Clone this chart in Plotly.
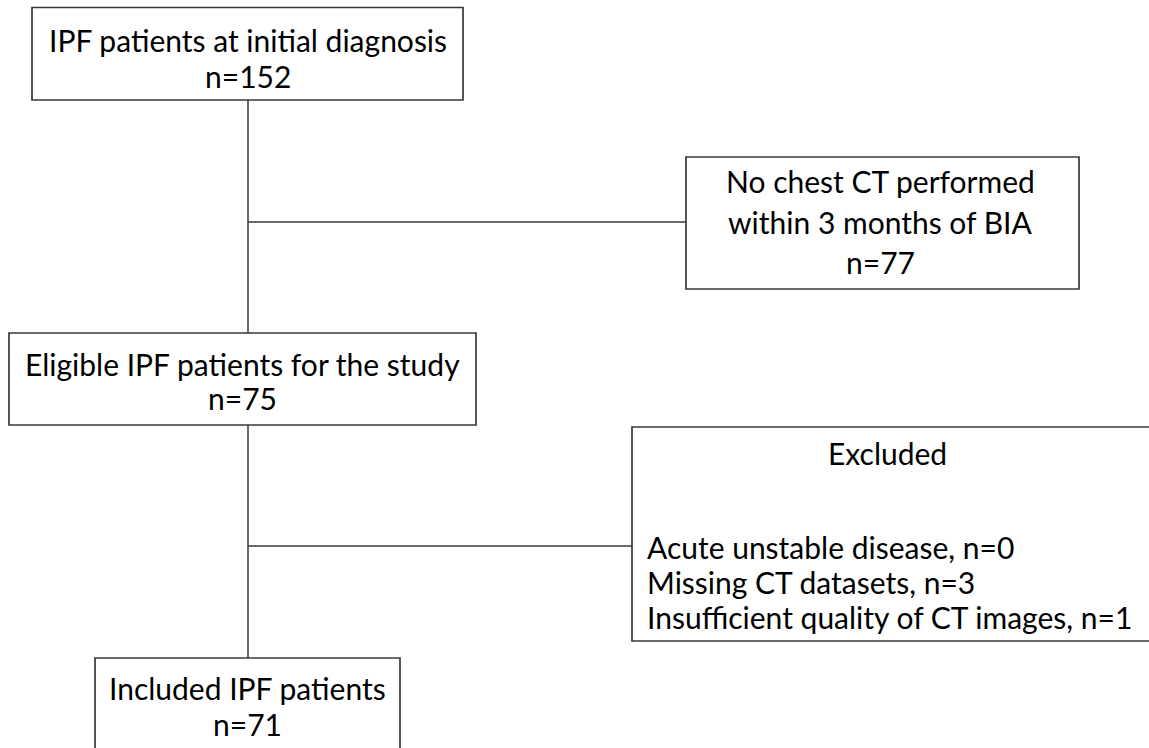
import plotly.graph_objects as go

# ---- data ----
stage_labels = ["IPF patients at initial diagnosis",
                "Eligible IPF patients for the study",
                "Included IPF patients"]
stage_counts = [152, 75, 71]
excl1_lines = ["No chest CT performed", "within 3 months of BIA"]
excl1_count = 77
excl2_title = "Excluded"
excl2_reasons = ["Acute unstable disease", "Missing CT datasets",
                 "Insufficient quality of CT images"]
excl2_counts = [0, 3, 1]

# ---- layout geometry (pixels) ----
W, H = 1149, 748
FONT = "Lato"
FS = 30
BOX_COLOR = "#383838"

boxes = [  # x0, y0, x1, y1
    (32, 7.5, 463, 100),
    (9, 333, 476, 425),
    (95, 658, 400, 770),
    (686, 157, 1079, 289),
    (632, 427, 1170, 641),
]
shapes = []
for x0, y0, x1, y1 in boxes:
    shapes.append(dict(type="rect", xref="x", yref="y", x0=x0, y0=y0, x1=x1, y1=y1,
                       line=dict(color=BOX_COLOR, width=1.7), fillcolor="rgba(0,0,0,0)"))
lines = [
    (248, 100, 248, 333),
    (248, 425, 248, 658),
    (248, 222, 686, 222),
    (248, 546, 632, 546),
]
for x0, y0, x1, y1 in lines:
    shapes.append(dict(type="line", xref="x", yref="y", x0=x0, y0=y0, x1=x1, y1=y1,
                       line=dict(color=BOX_COLOR, width=1.5)))

ann = []
def txt(x, y, s, anchor="center"):
    ann.append(dict(x=x, y=y, xref="x", yref="y", text=s, showarrow=False,
                    xanchor=anchor, yanchor="middle",
                    font=dict(family=FONT, size=FS, color="black")))

stage_cx = [248, 242, 247]
stage_y = [(40, 76), (364, 398), (688, 724)]
for i, lab in enumerate(stage_labels):
    txt(stage_cx[i], stage_y[i][0], lab)
    txt(stage_cx[i], stage_y[i][1], f"n={stage_counts[i]}")

ex1_y = [181, 222]
for s, y in zip(excl1_lines, ex1_y):
    txt(880, y, s)
txt(880, 262, f"n={excl1_count}")

txt(887, 453, excl2_title)
ex2_y = [547, 582, 617]
for r, c, y in zip(excl2_reasons, excl2_counts, ex2_y):
    txt(645, y, f"{r}, n={c}", anchor="left")

fig = go.Figure()
fig.update_layout(
    width=W, height=H,
    margin=dict(l=0, r=0, t=0, b=0),
    paper_bgcolor="white", plot_bgcolor="white",
    xaxis=dict(range=[0, W], visible=False, fixedrange=True),
    yaxis=dict(range=[H, 0], visible=False, fixedrange=True),
    shapes=shapes, annotations=ann, showlegend=False,
)
fig.write_html("out.html",
               config={"displayModeBar": False, "staticPlot": True},
               post_script="document.body.style.margin='0';document.body.style.overflow='hidden';")
